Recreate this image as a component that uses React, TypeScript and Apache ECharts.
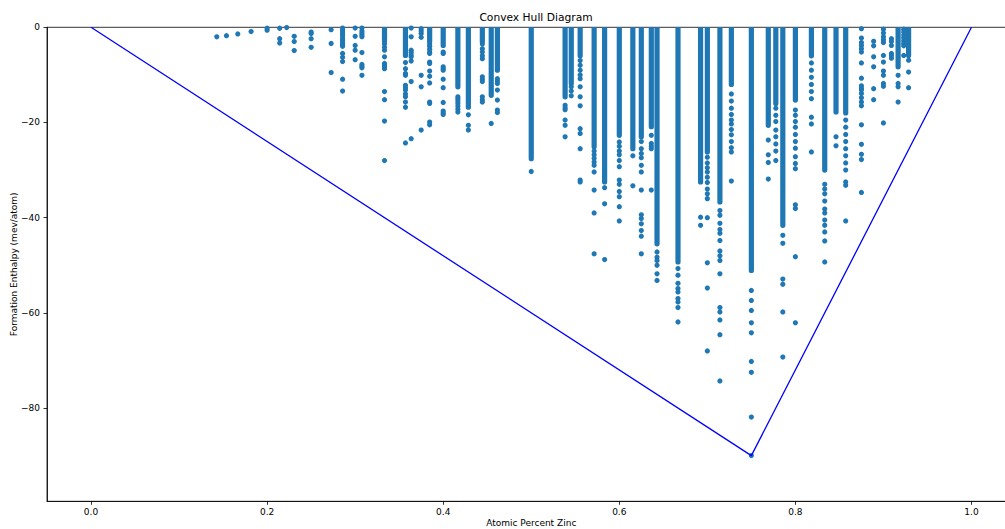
import React, { useEffect, useRef } from "react";
import * as echarts from "echarts";

// Composition (atomic fraction of zinc) of each column of structures
const compositions = [
  1 / 7, 2 / 13, 1 / 6, 2 / 11, 1 / 5, 3 / 14, 2 / 9, 3 / 13, 1 / 4, 3 / 11,
  2 / 7, 3 / 10, 4 / 13, 1 / 3, 5 / 14, 4 / 11, 3 / 8, 5 / 13, 2 / 5, 5 / 12,
  3 / 7, 4 / 9, 5 / 11, 6 / 13, 1 / 2, 7 / 13, 6 / 11, 5 / 9, 4 / 7, 7 / 12,
  3 / 5, 8 / 13, 5 / 8, 7 / 11, 9 / 14, 2 / 3, 9 / 13, 7 / 10, 5 / 7, 8 / 11,
  3 / 4, 10 / 13, 7 / 9, 11 / 14, 4 / 5, 9 / 11, 5 / 6, 11 / 13, 6 / 7, 7 / 8,
  8 / 9, 9 / 10, 10 / 11, 11 / 12, 12 / 13, 13 / 14,
];

// Depth (mev/atom) down to which the points of a column overlap into a solid band (0 = none)
const solidDepths = [
  0, 0, 0, 0, 0, 0, 0, 0, 0, 0,
  0, 0, 0, -2.5, -5.9, 0, 0, -3, -3.8, -12.5,
  -16.8, -3, -14.3, -9.0, -27.6, -14.6, -11.8, -6, -25.1, -32.5,
  -22.7, -25.5, -23.0, -20.9, -45.5, -49.3, -32.5, -26.2, -36.7, -12,
  -51.1, -20.6, -16, -41.6, -15.3, -6, -30, -17.8, -18, 0,
  0, 0, 0, -8.3, 0, -5.9,
];

// Individually visible formation enthalpies (mev/atom) of each column
const separatePoints: number[][] = [
  [-2.0],
  [-1.75],
  [-1.4],
  [-0.9],
  [-0.2, -0.6],
  [-0.2, -2.4, -3.3],
  [-0.05],
  [-1.9, -3.0, -4.9],
  [-1.0, -1.3, -2.4, -4.2],
  [-0.5, -3.4, -9.5],
  [-0.15, -0.57, -0.99, -1.41, -1.83, -2.39, -2.81, -3.3, -3.65, -4.0, -5.5, -6.3, -7.2, -10.9, -13.4],
  [-0.15, -1.9, -3.8, -4.8, -6.8],
  [-0.15, -0.78, -1.2, -1.6, -1.97, -5.3, -7.8, -8.2, -8.5, -10.1],
  [-3.0, -3.5, -4.2, -4.8, -6.2, -7.6, -8.0, -8.4, -8.7, -13.5, -15.2, -19.7, -28.0],
  [-7.4, -8.7, -9.7, -10.1, -12.2, -12.7, -13.2, -14.0, -14.6, -15.7, -16.8, -24.3],
  [-0.15, -2.0, -4.8, -5.3, -5.8, -6.2, -7.1, -11.4, -23.4],
  [-0.3, -0.8, -1.3, -2.1, -10.1, -12.5, -21.6],
  [-3.5, -4.0, -4.6, -5.2, -5.5, -7.3, -7.6, -9.2, -10.3, -11.7, -15.7, -16.0, -19.9, -20.5],
  [-5.2, -5.5, -8.3, -8.7, -9.0, -10.9, -12.7, -15.8, -17.6, -18.0, -18.3],
  [-14.6, -15.0, -15.5, -16.0, -16.6, -17.2, -17.8],
  [-18.4, -20.6, -21.6],
  [-3.5, -4.5, -5.2, -6.0, -6.6, -10.4, -10.9, -11.4, -14.6, -15.2, -15.7],
  [-20.2],
  [-10.8, -11.3, -11.8, -13.2, -15.3, -17.4, -17.9],
  [-30.3],
  [-16.4, -16.9, -17.3, -19.5, -20.6, -23.0],
  [-12.5, -13.4, -14.4],
  [-7, -8, -9, -10, -10.8, -12.5, -14.6, -16.5, -21.3, -22.3, -25.5, -32.1, -32.5],
  [-26.0, -26.8, -27.5, -28.3, -29.0, -30.4, -34.2, -39.0, -47.6],
  [-33.7, -37.1, -48.8],
  [-24.1, -25.0, -26.0, -26.8, -28.0, -29.3, -32.1, -33.0, -34.5, -35.6, -37.7, -40.7],
  [-27.0, -33.3],
  [-24, -25.5, -26.5, -27.4, -29.0, -30.4, -34.2, -39.4, -40.2, -41.3, -42.7, -43.9, -47.6],
  [-22.7, -24.4, -25.0, -25.5, -34.2],
  [-47.2, -48.3, -49.0, -50.0, -51.8, -53.2],
  [-50.7, -52.1, -53.8, -54.9, -55.6, -57.0, -57.7, -58.9, -61.9],
  [-39.9, -41.6],
  [-27.3, -28.5, -29.5, -30.4, -31.5, -32.6, -34.0, -35.0, -36.0, -40.0, -49.5, -54.8, -68.0],
  [-38.5, -39.5, -41.2, -42.5, -43.3, -44.8, -47.0, -48.0, -49.0, -51.8, -58.9, -59.8, -61.5, -64.6, -74.3],
  [-14, -15.5, -17, -18.3, -19.5, -20.3, -21.5, -22.6, -24, -25.3, -26.2, -32.3],
  [-55.3, -57.4, -59.5, -62.1, -64.2, -70.2, -72.5, -81.9, -90.0],
  [-23.7, -26.8, -28.4, -31.9],
  [-17, -18.5, -19.8, -21.6, -23.0, -24.5, -26.0, -28.0],
  [-43.7, -45.4, -52.9, -54.0, -59.8, -69.3],
  [-17.4, -18.5, -19.8, -21.0, -22.5, -24.0, -25.4, -27.2, -28.6, -29.7, -37.3, -38.1, -48.2, -62.1],
  [-7.5, -9.0, -10.5, -12.0, -13.5, -15.0, -18.9, -20.3, -26.2],
  [-33, -34, -35, -36.5, -38.2, -39, -40.5, -41.6, -43.0, -44.9, -49.3],
  [-23.0, -24.9],
  [-19.5, -21, -22.5, -24, -25.5, -27, -28.5, -30, -32.5, -33.2, -40.7],
  [-0.3, -2.25, -3.2, -3.8, -4.5, -5.2, -7.5, -10.7, -12.3, -12.8, -13.2, -13.9, -14.8, -15.7, -16.5, -20.5, -24.6, -26.7, -27.8, -34.7],
  [-2.95, -3.9, -6.2, -8.3, -12.9, -15.2],
  [-0.4, -1.2, -2.0, -2.6, -3.2, -5.9, -7.3, -9.2, -10.1, -11.8, -12.4, -20.1],
  [-2.4, -3.0, -3.8, -5.5, -6.0, -6.5],
  [-10.1, -11.8, -12.5, -15.7],
  [-0.4, -1.0, -1.6, -2.2, -2.8, -3.4, -3.9, -5.9],
  [-6.9, -9.4, -12.7],
];

// Lower convex hull
const hullX = [0, 0.75, 1];
const hullY = [0, -90, 0];

// Axis ticks
const xTicks = [0, 0.2, 0.4, 0.6, 0.8, 1.0];
const yTicks = [0, -20, -40, -60, -80];

export default function App() {
  const ref = useRef<HTMLDivElement>(null);
  useEffect(() => {
    document.body.style.margin = "0";
    const chart = echarts.init(ref.current!, undefined, { renderer: "svg" });
    const bands = compositions
      .map((x, i) => [x, 0, solidDepths[i]])
      .filter((d) => d[2] < 0);
    const pts: number[][] = [];
    compositions.forEach((x, i) => {
      separatePoints[i].forEach((y) => pts.push([x, y]));
    });
    const hull = hullX.map((x, i) => [x, hullY[i]]);
    const color = "#1f77b4";
    const font = "DejaVu Sans";
    chart.setOption({
      animation: false,
      backgroundColor: "#fff",
      title: {
        text: "Convex Hull Diagram",
        left: 531,
        top: 7,
        textAlign: "center",
        textStyle: { fontFamily: font, fontSize: 10.7, fontWeight: "normal", color: "#000" },
      },
      grid: {
        left: 47,
        right: -10.5,
        top: 27.3,
        bottom: 27.7,
        show: true,
        borderColor: "#000",
        borderWidth: 0.8,
        containLabel: false,
        outerBoundsMode: "none",
      },
      xAxis: {
        type: "value",
        min: -0.05,
        max: 1.05,
        name: "Atomic Percent Zinc",
        nameLocation: "middle",
        nameGap: 17.5,
        nameMoveOverlap: false,
        nameTextStyle: { fontFamily: font, fontSize: 9, color: "#000" },
        splitLine: { show: false },
        axisLine: { onZero: false, lineStyle: { color: "#000", width: 0.8 } },
        axisTick: { customValues: xTicks, length: 3.5, lineStyle: { color: "#000", width: 0.8 } },
        axisLabel: {
          customValues: xTicks,
          margin: 6,
          fontFamily: font,
          fontSize: 9,
          color: "#000",
          formatter: (v: number) => v.toFixed(1),
        },
      },
      yAxis: {
        type: "value",
        min: -99.6,
        max: 0,
        name: "Formation Enthalpy (mev/atom)",
        nameLocation: "middle",
        nameGap: 29,
        nameRotate: 90,
        nameMoveOverlap: false,
        nameTextStyle: { fontFamily: font, fontSize: 9, color: "#000" },
        splitLine: { show: false },
        axisLine: { onZero: false, lineStyle: { color: "#000", width: 0.8 } },
        axisTick: { customValues: yTicks, length: 3.5, lineStyle: { color: "#000", width: 0.8 } },
        axisLabel: {
          customValues: yTicks,
          margin: 7,
          fontFamily: font,
          fontSize: 9,
          color: "#000",
          formatter: (v: number) => (v < 0 ? "\u2212" + Math.abs(v) : String(v)),
        },
      },
      series: [
        {
          type: "custom",
          clip: true,
          data: bands,
          renderItem: (params: any, api: any) => {
            const x = api.value(0);
            const p1 = api.coord([x, api.value(1)]);
            const p2 = api.coord([x, api.value(2)]);
            return {
              type: "rect",
              shape: { x: p1[0] - 2.6, y: p1[1] - 2.6, width: 5.2, height: p2[1] - p1[1] + 5.2, r: 2.6 },
              style: { fill: color },
            };
          },
        },
        {
          type: "scatter",
          clip: true,
          data: pts,
          symbol: "circle",
          symbolSize: 5.2,
          itemStyle: { color, opacity: 1 },
        },
        {
          type: "line",
          data: hull,
          symbol: "none",
          lineStyle: { color: "#0000ff", width: 1.3 },
          z: 5,
        },
      ],
    });
    return () => chart.dispose();
  }, []);
  return <div ref={ref} style={{ width: 1005, height: 529 }} />;
}
